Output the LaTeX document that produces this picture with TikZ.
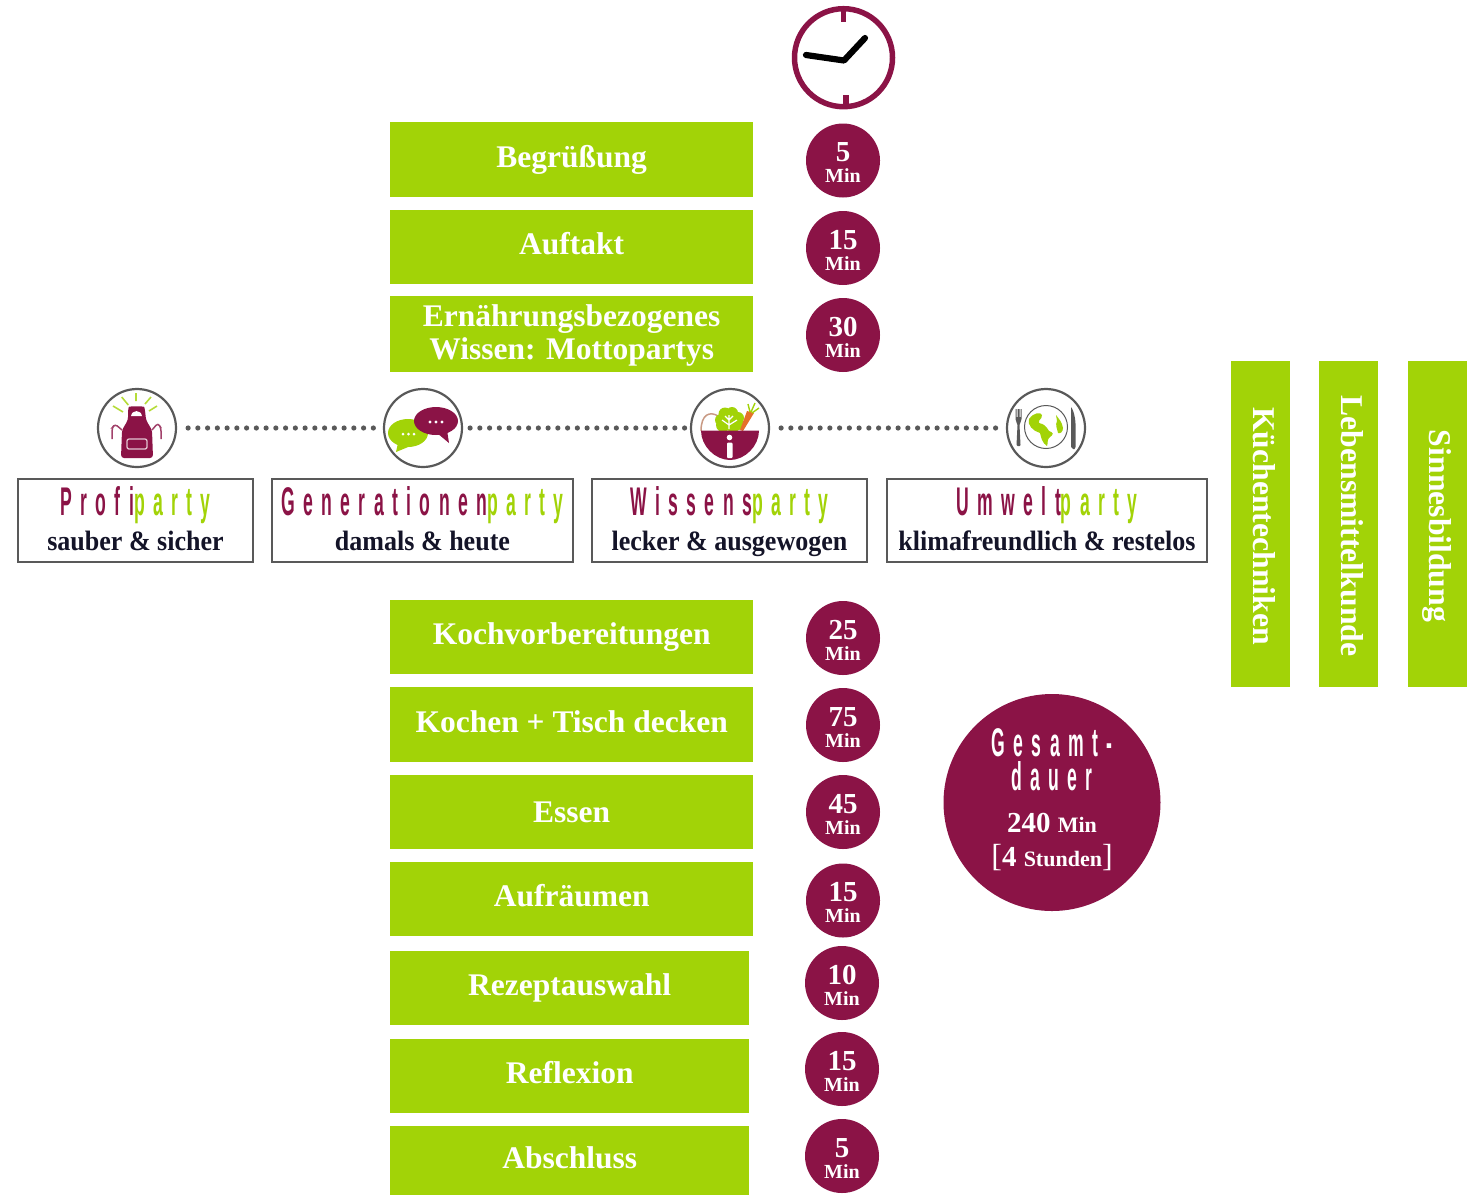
\documentclass[tikz,border=0pt]{standalone}
\usepackage{fontspec}
\setmainfont{Liberation Serif}[BoldFont={Liberation Serif Bold}]
\newfontfamily\cond[FakeStretch=0.44,LetterSpace=21]{Liberation Sans Bold}
\newfontfamily\subt[FakeStretch=0.93]{Liberation Serif Bold}
\definecolor{burg}{HTML}{8B1346}
\definecolor{grn}{HTML}{A2D307}
\definecolor{frame}{HTML}{595959}
\definecolor{ink}{HTML}{141428}
\definecolor{carrot}{HTML}{E5702A}
\definecolor{crust}{HTML}{C99A84}
\newcommand{\fsz}[1]{\fontsize{#1}{#1}\selectfont}
\newcommand{\tstrut}{\rule[-7pt]{0pt}{21pt}}
\newcommand{\party}[2]{\rule{0pt}{33pt}{\fsz{40}\cond\textcolor{burg}{#1}\textcolor{grn}{party}}\\{\fsz{28}\subt\textcolor{ink}{#2}}\rule[-9pt]{0pt}{9pt}}
\newcommand{\mins}[1]{\rule{0pt}{23pt}{\fsz{29}#1}\\Min}
\tikzset{
  x=1pt,y=-1pt,
  task/.style={fill=grn,text=white,font=\bfseries\fontsize{31.5}{31}\selectfont,align=center,inner sep=0pt,anchor=north west},
  theme/.style={fill=grn,text=white,font=\bfseries\fsz{31.7},inner sep=0pt,minimum width=326pt,minimum height=59pt,rotate=-90,shape=rectangle},
  dur/.style={circle,fill=burg,text=white,font=\bfseries\fontsize{20}{21}\selectfont,align=center,minimum size=74pt,inner sep=0pt},
  partybox/.style={draw=frame,line width=2.6pt,align=center,inner sep=0pt,minimum height=83pt,fill=white,font=\fontsize{28}{35}\selectfont},
  icon/.style={circle,draw=frame,line width=2.2pt,minimum size=78pt,inner sep=0pt},
  link/.style={draw=frame,line width=5.2pt,line cap=round,dash pattern=on 0pt off 9.75pt},
  clockline/.style={draw=burg,line width=6pt},
}
\begin{document}
\begin{tikzpicture}
\useasboundingbox (0,0) rectangle (1471,1195);
% clock
\node[circle,draw=burg,line width=5.5pt,minimum size=98pt,inner sep=0pt] (clock) at (843.5,57.7) {};
\draw[clockline,line width=5.5pt] (843.5,10) -- (843.5,22);
\draw[clockline] (845.5,95) -- (845.5,106);
\draw[black,line width=6.2pt,line cap=round,line join=round] (806,55) -- (844,60.5) -- (865,38);
% tasks
\foreach \nm/\xa/\ya/\w/\h/\txt in {
 t1/390/122/363/75/{\tstrut Begrüßung},
 t2/390/210/363/74/{\tstrut Auftakt},
 t3/390/296/363/76/{\rule{0pt}{25pt}\tstrut Ernährungsbezogenes\\[2pt]\tstrut Wissen: Mottopartys},
 t4/390/600/363/74/{\tstrut Kochvorbereitungen},
 t5/390/687/363/75/{\tstrut Kochen + Tisch decken},
 t6/390/775/363/74/{\rule{0pt}{27pt}\tstrut Essen},
 t7/390/862/363/74/{\tstrut Aufräumen},
 t8/390/951/359/74/{\tstrut Rezeptauswahl},
 t9/390/1039/359/74/{\tstrut Reflexion},
 t10/390/1126/359/69/{\rule{0pt}{23pt}\tstrut Abschluss}}{
  \node[task,minimum width=\w pt,minimum height=\h pt] (\nm) at (\xa,\ya) {\txt};
}
% durations
\foreach \nm/\cx/\cy/\v in {
 d1/843/160.5/5, d2/843/248/15, d3/843/335/30, d4/843/638/25, d5/843/725/75,
 d6/843/812/45, d7/843/900.5/15, d8/842/983/10, d9/842/1069/15, d10/842/1156/5}{
  \node[dur] (\nm) at (\cx,\cy) {\mins{\v}};
}
% themes
\node[theme] (k) at (1260.5,524) {\hspace{4pt}\tstrut Küchentechniken};
\node[theme] (l) at (1348.5,524) {\hspace{4pt}\tstrut Lebensmittelkunde};
\node[theme] (s) at (1437,524) {\hspace{4pt}\tstrut Sinnesbildung};
% total
\node[circle,fill=burg,text=white,align=center,minimum size=217pt,inner sep=0pt,font=\bfseries\fontsize{22}{30}\selectfont] (total) at (1052,802.5)
 {\rule{0pt}{29pt}{\fsz{40}\cond Gesamt-}\\[4pt]{\fsz{40}\cond dauer}\\[12pt]{\fsz{29}240 }Min\\[4pt]{\mdseries\fsz{32}[}{\fsz{29}4 }Stunden{\mdseries\fsz{32}]}\rule[-12pt]{0pt}{12pt}};
% party boxes
\node[partybox,minimum width=235pt] (b1) at (135.5,520.5) {\party{Profi}{sauber \& sicher}};
\node[partybox,minimum width=301pt] (b2) at (422.5,520.5) {\party{Generationen}{damals \& heute}};
\node[partybox,minimum width=275pt] (b3) at (729.5,520.5) {\party{Wissens}{lecker \& ausgewogen}};
\node[partybox,minimum width=320pt] (b4) at (1047,520.5) {\party{Umwelt}{klimafreundlich \& restelos}};
% icons
\node[icon] (i1) at (137,428) {};
\node[icon] (i2) at (423,428) {};
\node[icon] (i3) at (730,428) {};
\node[icon] (i4) at (1046,428) {};
\draw[link,shorten <=11pt,shorten >=2pt] (i1) -- (i2);
\draw[link,shorten <=7pt,shorten >=5pt] (i2) -- (i3);
\draw[link,shorten <=11pt,shorten >=2pt] (i3) -- (i4);
% apron
\begin{scope}[shift={(i1.center)}]
 \draw[grn!80!white,line width=1.6pt] (-24,-22)--(-14,-16) (-15.3,-31)--(-8.7,-23) (-1,-35)--(-1,-27) (14,-31)--(8,-24) (20,-22)--(12,-17);
 \draw[burg!80!white,line width=1.5pt,rounded corners=3pt] (-15,2)--(-22,-4)--(-25,0)--(-25,11);
 \draw[burg!80!white,line width=1.5pt,rounded corners=3pt] (15,2)--(21,-5)--(24,0)--(24,11);
 \fill[burg,rounded corners=3pt] (-9,-18) .. controls (-8,-22) and (7,-22) .. (8,-18)--(9,-8)--(15,2)--(16,30)--(-16,30)--(-15,2)--(-9,-8)--cycle;
 \fill[white] (-6,-12) .. controls (-5,-18.5) and (4,-18.5) .. (5,-12) -- cycle;
 \draw[white!75!burg,line width=1.3pt,rounded corners=2pt] (-10,11) rectangle (10,21);
\end{scope}
% bubbles
\begin{scope}[shift={(i2.center)}]
 \fill[grn] (-15,5) ellipse (20 and 14);
 \fill[grn] (-25,15)--(-27,24)--(-10,17)--cycle;
 \fill[burg] (13,-7) ellipse (22 and 14);
 \fill[burg] (14,5)--(26,15)--(24,2)--cycle;
 \foreach \q in {-20,-14.5,-9}{\fill[white] (\q,6) circle (1.5);}
 \foreach \q in {7,13,19}{\fill[white] (\q,-6) circle (1.6);}
\end{scope}
% bowl
\begin{scope}[shift={(i3.center)}]
 \draw[crust,line width=1.5pt] (-29,3) .. controls (-29,-14) and (-20,-17) .. (-12,-12) .. controls (-10,-8) and (-8,-4) .. (-8,3);
 \fill[grn] (-9,-8) circle (6) (-5,-14) circle (6.5) (2,-15) circle (6) (8,-10) circle (6) (9,-3) circle (5) (-7,-3) circle (7) (0,-6) circle (9) (4,-2) circle (6);
 \draw[white,line width=1.2pt] (-1,1)--(-1,-13) (-1,-3)--(-8,-8) (-1,-3)--(7,-8) (-1,-8)--(-5,-12) (-1,-8)--(3,-12);
 \fill[carrot] (13,3)--(24,-15)--(17,-17)--(10,2)--cycle;
 \draw[grn,line width=1.4pt] (20,-16)--(18,-24) (21,-16)--(25,-25) (22,-15)--(29,-20);
 \fill[burg] (-29,2.5)--(29,2.5) .. controls (29,18) and (15,32) .. (0,32) .. controls (-15,32) and (-29,18) .. (-29,2.5) -- cycle;
 \fill[white] (-0.5,9.5) circle (2.8);
 \fill[white,rounded corners=1pt] (-3,14.5) rectangle (2.5,30);
\end{scope}
% plate
\begin{scope}[shift={(i4.center)}]
 \draw[frame,line width=1pt] (0,-1) circle (21.5);
 \fill[grn] (-17,-9) .. controls (-12,-16) and (-5,-16) .. (-4,-13) .. controls (-4,-8) and (-8,-9) .. (-7,-5)
   .. controls (-2,-4) and (0,-2) .. (3,3) .. controls (8,5) and (8,6) .. (3,10) .. controls (1,12) and (2,16) .. (1,18)
   .. controls (-4,15) and (-5,9) .. (-6,5) .. controls (-13,3) and (-19,-3) .. (-17,-9) -- cycle;
 \fill[grn] (10,-13) .. controls (13,-9) and (16,-6) .. (17,0) .. controls (17,4) and (14,6) .. (12,5) .. controls (11,0) and (9,-3) .. (11,-7) -- cycle;
 \begin{scope}[xshift=-3.5pt]
 \fill[frame] (-27,-19)--(-27,-9) .. controls (-27,-6) and (-25,-5) .. (-25,-3) -- (-26,17)--(-25,18)--(-23,18)--(-22,17)--(-23,-3) .. controls (-23,-5) and (-21,-6) .. (-21,-9)--(-21,-19)--(-22,-19)--(-22,-11)--(-23,-11)--(-23,-19)--(-25,-19)--(-25,-11)--(-26,-11)--(-26,-19)--cycle;
 \end{scope}
 \fill[frame] (25,-21) .. controls (29,-16) and (30,-4) .. (29.5,2) -- (29.5,19) -- (28.5,21) -- (27,21) -- (25,19) -- cycle;
\end{scope}
\end{tikzpicture}
\end{document}
